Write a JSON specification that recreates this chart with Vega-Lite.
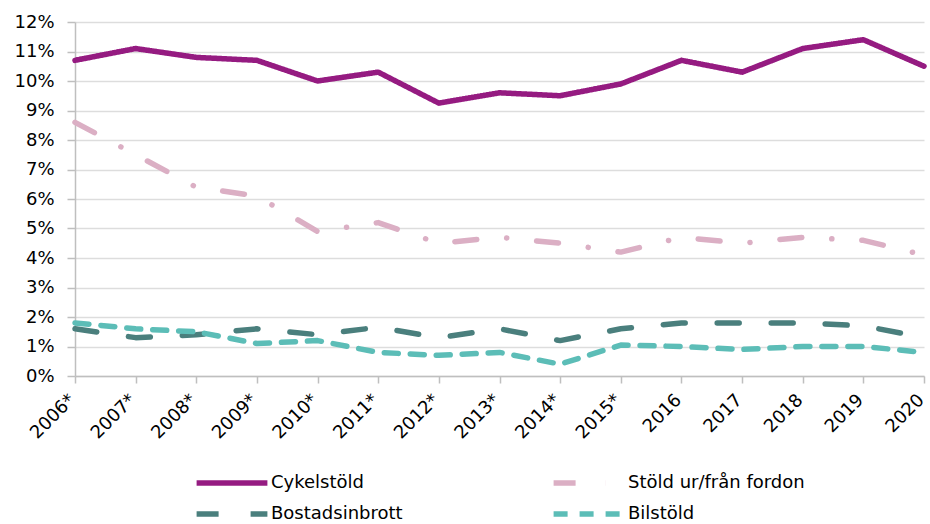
{
  "$schema": "https://vega.github.io/schema/vega-lite/v6.json",
  "width": 849,
  "height": 354,
  "autosize": "none",
  "padding": {"left": 75, "top": 22, "right": 6, "bottom": 148},
  "background": "white",
  "config": {
    "font": "DejaVu Sans",
    "view": {"stroke": null}
  },
  "data": {
    "values": [
      {"year": "2006*", "serie": "Cykelstöld", "v": 10.7},
      {"year": "2007*", "serie": "Cykelstöld", "v": 11.1},
      {"year": "2008*", "serie": "Cykelstöld", "v": 10.8},
      {"year": "2009*", "serie": "Cykelstöld", "v": 10.7},
      {"year": "2010*", "serie": "Cykelstöld", "v": 10.0},
      {"year": "2011*", "serie": "Cykelstöld", "v": 10.3},
      {"year": "2012*", "serie": "Cykelstöld", "v": 9.25},
      {"year": "2013*", "serie": "Cykelstöld", "v": 9.6},
      {"year": "2014*", "serie": "Cykelstöld", "v": 9.5},
      {"year": "2015*", "serie": "Cykelstöld", "v": 9.9},
      {"year": "2016", "serie": "Cykelstöld", "v": 10.7},
      {"year": "2017", "serie": "Cykelstöld", "v": 10.3},
      {"year": "2018", "serie": "Cykelstöld", "v": 11.1},
      {"year": "2019", "serie": "Cykelstöld", "v": 11.4},
      {"year": "2020", "serie": "Cykelstöld", "v": 10.5},

      {"year": "2006*", "serie": "Stöld ur/från fordon", "v": 8.6},
      {"year": "2007*", "serie": "Stöld ur/från fordon", "v": 7.5},
      {"year": "2008*", "serie": "Stöld ur/från fordon", "v": 6.4},
      {"year": "2009*", "serie": "Stöld ur/från fordon", "v": 6.1},
      {"year": "2010*", "serie": "Stöld ur/från fordon", "v": 4.9},
      {"year": "2011*", "serie": "Stöld ur/från fordon", "v": 5.2},
      {"year": "2012*", "serie": "Stöld ur/från fordon", "v": 4.5},
      {"year": "2013*", "serie": "Stöld ur/från fordon", "v": 4.7},
      {"year": "2014*", "serie": "Stöld ur/från fordon", "v": 4.5},
      {"year": "2015*", "serie": "Stöld ur/från fordon", "v": 4.2},
      {"year": "2016", "serie": "Stöld ur/från fordon", "v": 4.7},
      {"year": "2017", "serie": "Stöld ur/från fordon", "v": 4.5},
      {"year": "2018", "serie": "Stöld ur/från fordon", "v": 4.7},
      {"year": "2019", "serie": "Stöld ur/från fordon", "v": 4.6},
      {"year": "2020", "serie": "Stöld ur/från fordon", "v": 4.1},

      {"year": "2006*", "serie": "Bostadsinbrott", "v": 1.6},
      {"year": "2007*", "serie": "Bostadsinbrott", "v": 1.3},
      {"year": "2008*", "serie": "Bostadsinbrott", "v": 1.4},
      {"year": "2009*", "serie": "Bostadsinbrott", "v": 1.6},
      {"year": "2010*", "serie": "Bostadsinbrott", "v": 1.4},
      {"year": "2011*", "serie": "Bostadsinbrott", "v": 1.65},
      {"year": "2012*", "serie": "Bostadsinbrott", "v": 1.3},
      {"year": "2013*", "serie": "Bostadsinbrott", "v": 1.6},
      {"year": "2014*", "serie": "Bostadsinbrott", "v": 1.2},
      {"year": "2015*", "serie": "Bostadsinbrott", "v": 1.6},
      {"year": "2016", "serie": "Bostadsinbrott", "v": 1.8},
      {"year": "2017", "serie": "Bostadsinbrott", "v": 1.8},
      {"year": "2018", "serie": "Bostadsinbrott", "v": 1.8},
      {"year": "2019", "serie": "Bostadsinbrott", "v": 1.7},
      {"year": "2020", "serie": "Bostadsinbrott", "v": 1.3},

      {"year": "2006*", "serie": "Bilstöld", "v": 1.8},
      {"year": "2007*", "serie": "Bilstöld", "v": 1.6},
      {"year": "2008*", "serie": "Bilstöld", "v": 1.5},
      {"year": "2009*", "serie": "Bilstöld", "v": 1.1},
      {"year": "2010*", "serie": "Bilstöld", "v": 1.2},
      {"year": "2011*", "serie": "Bilstöld", "v": 0.8},
      {"year": "2012*", "serie": "Bilstöld", "v": 0.7},
      {"year": "2013*", "serie": "Bilstöld", "v": 0.8},
      {"year": "2014*", "serie": "Bilstöld", "v": 0.4},
      {"year": "2015*", "serie": "Bilstöld", "v": 1.05},
      {"year": "2016", "serie": "Bilstöld", "v": 1.0},
      {"year": "2017", "serie": "Bilstöld", "v": 0.9},
      {"year": "2018", "serie": "Bilstöld", "v": 1.0},
      {"year": "2019", "serie": "Bilstöld", "v": 1.0},
      {"year": "2020", "serie": "Bilstöld", "v": 0.8}
    ]
  },
  "mark": {"type": "line", "strokeWidth": 5.5, "strokeCap": "round", "strokeJoin": "round"},
  "encoding": {
    "x": {
      "field": "year", "type": "ordinal", "sort": null,
      "scale": {"type": "point", "padding": 0},
      "axis": {
        "title": null, "labelAngle": -45, "labelFontSize": 18, "labelColor": "#000000",
        "labelAlign": "right", "labelBaseline": "middle", "labelPadding": 14, "labelOffset": -3,
        "labelBound": false, "labelOverlap": false,
        "domainColor": "#bfbfbf", "domainWidth": 1.5, "tickColor": "#bfbfbf", "tickWidth": 1.5, "tickSize": 7,
        "grid": false
      }
    },
    "y": {
      "field": "v", "type": "quantitative",
      "scale": {"domain": [0, 12], "nice": false},
      "axis": {
        "title": null, "values": [0,1,2,3,4,5,6,7,8,9,10,11,12],
        "labelExpr": "datum.value + '%'", "labelFontSize": 18, "labelColor": "#000000",
        "labelPadding": 13,
        "domainColor": "#bfbfbf", "domainWidth": 1.5, "tickColor": "#bfbfbf", "tickWidth": 1.5, "tickSize": 8,
        "gridColor": "#dddddd", "gridWidth": 1.5
      }
    },
    "color": {
      "field": "serie", "type": "nominal",
      "scale": {
        "domain": ["Cykelstöld", "Stöld ur/från fordon", "Bostadsinbrott", "Bilstöld"],
        "range": ["#951b81", "#dbafc4", "#4a7f7d", "#5cbdb7"]
      },
      "legend": {
        "title": null, "orient": "none", "legendX": 142, "legendY": 446,
        "direction": "horizontal",
        "columns": 2, "columnPadding": 139, "rowPadding": 5,
        "symbolType": "M-2.95,0H2.95", "symbolSize": 576, "symbolStrokeWidth": 5.5,
        "labelFontSize": 18, "labelColor": "#000000", "labelOffset": 24, "labelLimit": 400
      }
    },
    "strokeDash": {
      "field": "serie", "type": "nominal",
      "scale": {
        "domain": ["Cykelstöld", "Stöld ur/från fordon", "Bostadsinbrott", "Bilstöld"],
        "range": [[1, 0], [22, 30, 0.1, 30], [22, 32], [14, 12]]
      },
      "legend": null
    }
  }
}
